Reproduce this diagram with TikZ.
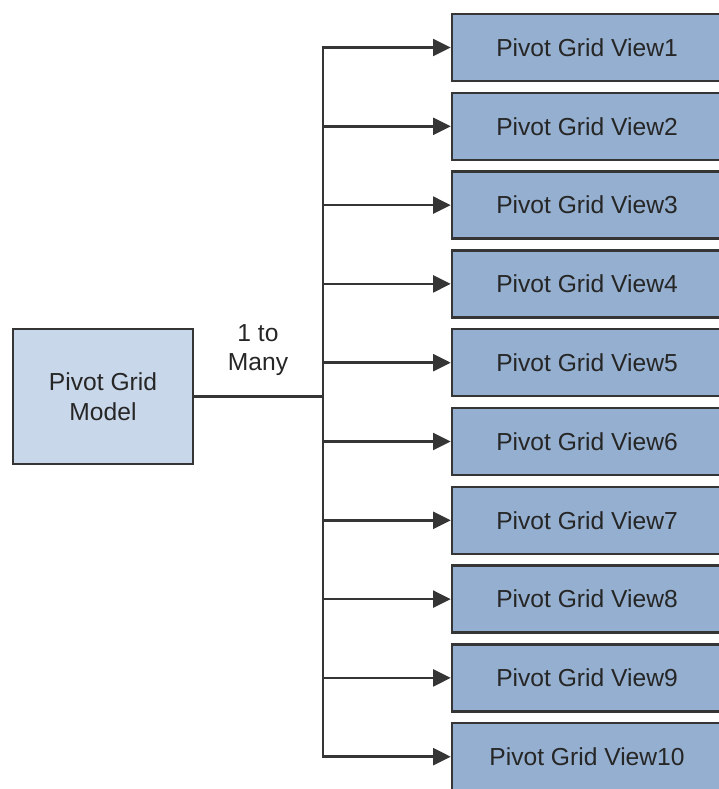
\documentclass[tikz,border=0pt]{standalone}
\usepackage{fontspec}
\setmainfont{Liberation Sans}
\usepackage{tikz}
\usetikzlibrary{arrows.meta, calc}

\definecolor{viewfill}{HTML}{94AFCF}
\definecolor{modelfill}{HTML}{C9D7EA}
\definecolor{edge}{HTML}{353535}
\definecolor{ink}{HTML}{262626}

\tikzset{
	box/.style = {draw=edge, line width=1.7pt, inner sep=0pt, align=center, text=ink,
		font=\fontsize{17.5}{21}\selectfont},
	viewbox/.style = {box, fill=viewfill, minimum width=6.75cm, minimum height=1.675cm},
	modelbox/.style = {box, fill=modelfill, minimum width=4.5cm, minimum height=3.375cm},
	link/.style = {draw=edge, line width=1.9pt},
	branch/.style = {link, -{Triangle[length=0.44cm, width=0.42cm]}}
}

\begin{document}
\begin{tikzpicture}[x=0.025cm, y=-0.025cm]
	\useasboundingbox (0,0) rectangle (718,789);
	\node [modelbox] (model) at (103,396.5) {Pivot Grid\\Model};
	\node [viewbox] (v1) at (587,47.5) {Pivot Grid View1};
	\node [viewbox] (v2) at (587,126.3) {Pivot Grid View2};
	\node [viewbox] (v3) at (587,205.1) {Pivot Grid View3};
	\node [viewbox] (v4) at (587,283.9) {Pivot Grid View4};
	\node [viewbox] (v5) at (587,362.7) {Pivot Grid View5};
	\node [viewbox] (v6) at (587,441.5) {Pivot Grid View6};
	\node [viewbox] (v7) at (587,520.3) {Pivot Grid View7};
	\node [viewbox] (v8) at (587,599.1) {Pivot Grid View8};
	\node [viewbox] (v9) at (587,677.9) {Pivot Grid View9};
	\node [viewbox] (v10) at (587,756.7) {Pivot Grid View10};
	\coordinate (hub) at (323,396.5);
	\node [align=center, text=ink, font=\fontsize{17.5}{21}\selectfont] (ratio) at (258,350) {1 to\\Many};
	\draw [link, line width=2.8pt] (model) -- (hub);
	\draw [link, line cap=rect] (hub |- v1) -- (hub |- v10);
	\draw [branch] (hub |- v1) -- (v1);
	\draw [branch] (hub |- v2) -- (v2);
	\draw [branch] (hub |- v3) -- (v3);
	\draw [branch] (hub |- v4) -- (v4);
	\draw [branch] (hub |- v5) -- (v5);
	\draw [branch] (hub |- v6) -- (v6);
	\draw [branch] (hub |- v7) -- (v7);
	\draw [branch] (hub |- v8) -- (v8);
	\draw [branch] (hub |- v9) -- (v9);
	\draw [branch] (hub |- v10) -- (v10);
\end{tikzpicture}
\end{document}
